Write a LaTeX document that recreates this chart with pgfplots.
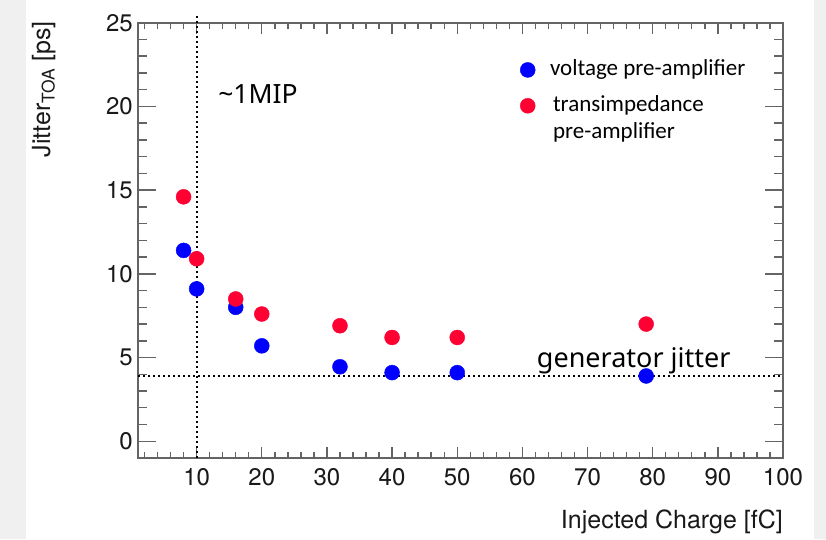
\documentclass[border=0pt]{standalone}
\usepackage{fontspec}
\setmainfont{TeX Gyre Heros}
\newfontfamily\annfont{Noto Sans}
\newfontfamily\legfont{Carlito}
\usepackage{pgfplots}
\usepackage{pgfplotstable}
\usetikzlibrary{backgrounds,calc}
\pgfplotsset{compat=1.18}
\definecolor{ptblue}{RGB}{0,0,255}
\definecolor{ptred}{RGB}{255,0,51}
\definecolor{framegray}{RGB}{100,100,100}
\definecolor{bggray}{RGB}{240,240,240}

\pgfplotstableread{
x y
8 11.4
10 9.1
16 8.0
20 5.7
32 4.45
40 4.1
50 4.1
79 3.9
}\voltagedata
\pgfplotstableread{
x y
8 14.6
10 10.9
16 8.5
20 7.6
32 6.9
40 6.2
50 6.2
79 7.0
}\transdata

\begin{document}
\begin{tikzpicture}[x=1pt,y=1pt]
\begin{axis}[
  scale only axis, width=645pt, height=435.3pt,
  xmin=1, xmax=100, ymin=-1, ymax=25,
  clip=false,
  xtick={10,20,...,100}, minor xtick={2,4,...,100},
  ytick={0,5,...,25}, minor ytick={-1,0,...,25},
  xtick pos=both, ytick pos=both,
  xticklabel pos=lower, yticklabel pos=left,
  tick align=inside,
  axis line style={draw=framegray, line width=1.6pt},
  every tick/.style={draw=framegray, line width=1.4pt},
  xtick style={/pgfplots/major tick length=11pt, /pgfplots/minor tick length=6pt},
  ytick style={/pgfplots/major tick length=18pt, /pgfplots/minor tick length=9pt},
  /pgf/number format/assume math mode=true,
  tick label style={font=\fontsize{24}{28}\selectfont, text=black!90},
  xticklabel style={inner sep=0pt, yshift=-10pt},
  yticklabel style={inner sep=0pt, xshift=-5pt},
  xlabel={Injected Charge [fC]},
  ylabel={Jitter\textsubscript{TOA} [ps]},
  label style={font=\fontsize{25}{30}\selectfont, text=black!90, inner sep=0pt},
  xlabel style={at={(axis description cs:1,-0.1608)}, anchor=base east},
  ylabel style={at={(axis description cs:-0.1364,1.004)}, anchor=base east},
  legend cell align=left,
  legend style={draw=none, fill=none, inner sep=0pt, outer sep=0pt,
    at={(rel axis cs:0.5926,0.9144)}, anchor=north west,
    font=\legfont\fontsize{23}{27}\selectfont,
    cells={anchor=base west},
    nodes={inner sep=0pt, text depth=},
    row sep=13pt, column sep=14.8pt},
  legend image code/.code={\draw plot coordinates {(0pt,6pt)};},
]
\coordinate (sw) at (rel axis cs:0,0);
\addplot[only marks, mark=*, mark size=7.5pt, mark options={draw=ptblue, fill=ptblue}] table[x=x,y=y] {\voltagedata};
\addlegendentry{voltage pre-amplifier}
\addplot[only marks, mark=*, mark size=7.5pt, mark options={draw=ptred, fill=ptred}] table[x=x,y=y] {\transdata};
\addlegendentry{\begin{tabular}[t]{@{\hspace{3pt}}l@{}}transimpedance\\pre-amplifier\end{tabular}}
\addplot[forget plot, black, line width=2pt, dash pattern=on 2pt off 3pt] coordinates {(10,-1) (10,25.4)};
\addplot[forget plot, black, line width=2pt, dash pattern=on 2pt off 3pt] coordinates {(1,3.88) (100,3.88)};
\node[anchor=base west, inner sep=0pt, font=\annfont\fontsize{26.5}{30}\selectfont] at (axis cs:13.3,20.19) {\textasciitilde 1MIP};
\node[anchor=base west, inner sep=0pt, font=\annfont\fontsize{27}{30}\selectfont] at (axis cs:62.2,4.42) {generator jitter};
\end{axis}
\begin{pgfonlayer}{background}
\fill[bggray] ($(sw)+(-138,-81)$) rectangle ($(sw)+(688,458)$);
\fill[white] ($(sw)+(-112,-81)$) rectangle ($(sw)+(676,458)$);
\end{pgfonlayer}
\pgfresetboundingbox
\path[use as bounding box] ($(sw)+(-138,-81)$) rectangle ($(sw)+(688,458)$);
\end{tikzpicture}
\end{document}
